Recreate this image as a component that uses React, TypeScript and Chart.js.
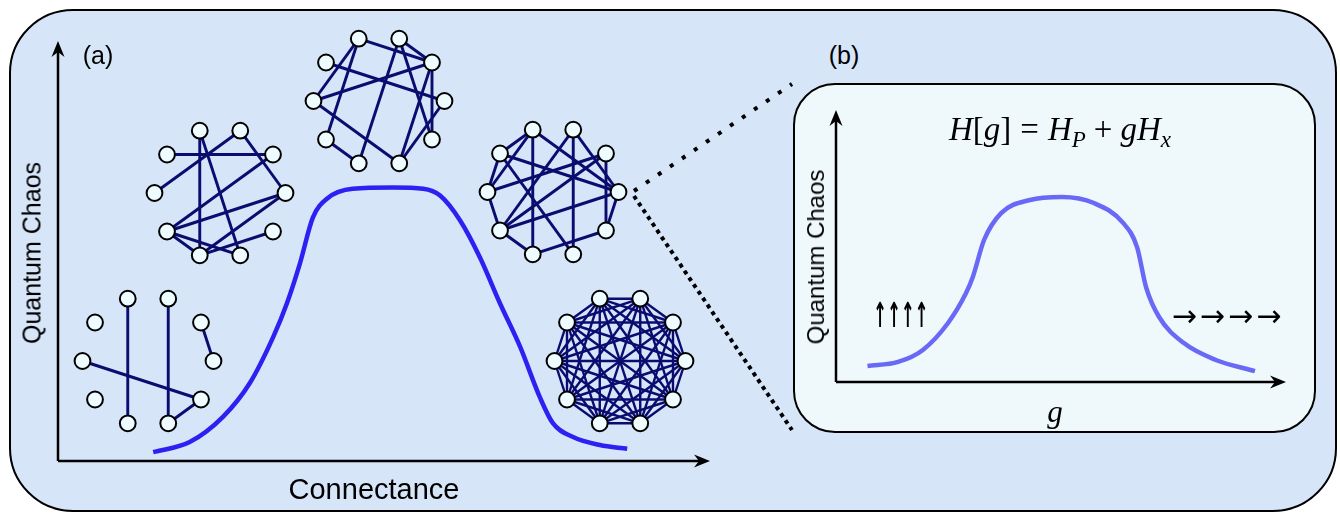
import React, { useEffect, useRef } from "react";
import { Chart, registerables } from "chart.js";
Chart.register(...registerables);

// ================= DATA =================
// Panel (a): quantum chaos vs connectance
const connectance = [14.6, 20.2, 25.3, 29.4, 33.0, 35.1, 37.1, 39.1, 41.3, 45.2, 51.4, 56.0, 58.6, 61.7, 64.7, 67.8, 70.9, 73.9, 75.9, 79.0, 83.1, 87.3];
const chaosA = [2.1, 4.5, 10.5, 18.5, 29.5, 37.5, 47.0, 58.0, 62.5, 64.8, 65.1, 64.8, 63.2, 57.2, 48.5, 37.5, 27.1, 15.2, 9.0, 5.7, 3.8, 2.9];

// Panel (b): quantum chaos vs g
const couplingG = [7.0, 13.8, 19.3, 24.9, 28.9, 30.4, 32.9, 36.7, 43.1, 50.2, 57.3, 63.8, 66.9, 68.9, 71.8, 77.3, 84.4, 93.1];
const chaosB = [5.9, 7.4, 11.8, 21.7, 32.7, 38.6, 52.2, 62.1, 66.9, 68.0, 65.8, 58.5, 49.6, 34.9, 23.9, 14.3, 8.1, 4.0];

// Networks: 10 nodes on a ring (node k sits at angle 36k degrees)
const NODE_COUNT = 10;
const edgesG1: number[][] = [[3, 7], [2, 8], [1, 0], [5, 9], [9, 8]];
const edgesG2: number[][] = [[3, 7], [3, 8], [4, 1], [5, 2], [2, 0], [6, 1], [6, 0], [6, 7], [6, 8], [7, 9], [7, 0]];
const edgesG3: number[][] = [[3, 1], [3, 5], [3, 6], [4, 0], [5, 1], [5, 8], [6, 7], [2, 7], [2, 9], [2, 1], [1, 9], [1, 8], [0, 8]];
const edgesG4: number[][] = [[3, 4], [3, 5], [3, 7], [3, 0], [4, 5], [4, 0], [4, 8], [2, 8], [2, 6], [2, 0], [1, 5], [1, 9], [1, 6], [5, 6], [6, 0], [6, 7], [7, 9], [0, 9]];
const edgesG5: number[][] = []; // complete graph
for (let a = 0; a < NODE_COUNT; a++) for (let b = a + 1; b < NODE_COUNT; b++) edgesG5.push([a, b]);

// Text
const labelA = "(a)";
const labelB = "(b)";
const yTitle = "Quantum Chaos";
const xTitleA = "Connectance";
const xTitleB = "g";
const upSpins = "↑↑↑↑";
const rightSpins = "→→→→";

// ================= STYLE / LAYOUT =================
const SANS = "'Liberation Sans', Arial, Helvetica, sans-serif";
const SERIF = "'Liberation Serif', 'Times New Roman', serif";
const EDGE_COLOR = "#0b0b70";
const NODE_FILL = "#effcff";

function arrowHead(ctx: CanvasRenderingContext2D, x: number, y: number, ang: number) {
  ctx.save();
  ctx.translate(x, y);
  ctx.rotate(ang);
  ctx.beginPath();
  ctx.moveTo(0, 0);
  ctx.lineTo(-16, -6.5);
  ctx.lineTo(-11, 0);
  ctx.lineTo(-16, 6.5);
  ctx.closePath();
  ctx.fill();
  ctx.restore();
}

const arrowAxes = {
  id: "arrowAxes",
  beforeDatasetsDraw(chart: any) {
    const { ctx, chartArea } = chart;
    const { left, right, top, bottom } = chartArea;
    ctx.save();
    ctx.strokeStyle = "#000";
    ctx.fillStyle = "#000";
    ctx.lineWidth = 2.5;
    ctx.beginPath();
    ctx.moveTo(left, bottom);
    ctx.lineTo(right - 11, bottom);
    ctx.moveTo(left, bottom);
    ctx.lineTo(left, top + 11);
    ctx.stroke();
    arrowHead(ctx, right, bottom, 0);
    arrowHead(ctx, left, top, -Math.PI / 2);
    ctx.restore();
  },
};

const zoomLines = {
  id: "zoomLines",
  afterDraw(chart: any) {
    const ctx = chart.ctx;
    ctx.save();
    ctx.strokeStyle = "#000";
    ctx.lineWidth = 4;
    ctx.setLineDash([4, 10.5]);
    ctx.beginPath();
    ctx.moveTo(634, 191);
    ctx.lineTo(792, 84);
    ctx.stroke();
    ctx.setLineDash([4, 4.2]);
    ctx.beginPath();
    ctx.moveTo(634, 196);
    ctx.lineTo(792, 430);
    ctx.stroke();
    ctx.restore();
  },
};

function baseOptions(padding: any) {
  return {
    animation: false as const,
    responsive: false,
    events: [] as any[],
    layout: { padding, autoPadding: false },
    plugins: { legend: { display: false }, tooltip: { enabled: false }, title: { display: false } },
    scales: {
      x: { type: "linear" as const, min: 0, max: 100, display: false },
      y: { type: "linear" as const, min: 0, max: 100, display: false },
    },
  };
}

function CurveChart({ xs, ys, color, width, height, left, top, padding, extraPlugins }: any) {
  const ref = useRef<HTMLCanvasElement>(null);
  useEffect(() => {
    const chart = new Chart(ref.current as HTMLCanvasElement, {
      type: "line",
      data: {
        datasets: [
          {
            data: xs.map((x: number, i: number) => ({ x, y: ys[i] })),
            borderColor: color,
            borderWidth: 4.5,
            pointRadius: 0,
            cubicInterpolationMode: "monotone",
            fill: false,
            clip: false,
          } as any,
        ],
      },
      options: baseOptions(padding) as any,
      plugins: [arrowAxes, ...(extraPlugins || [])],
    });
    return () => chart.destroy();
  }, []);
  return (
    <canvas
      ref={ref}
      width={width}
      height={height}
      style={{ position: "absolute", left, top, width, height }}
    />
  );
}

const RING = 1.145;
function Network({ edges, cx, cy }: { edges: number[][]; cx: number; cy: number }) {
  const ref = useRef<HTMLCanvasElement>(null);
  useEffect(() => {
    const nodes = Array.from({ length: NODE_COUNT }, (_, k) => ({
      x: Math.cos((k * 2 * Math.PI) / NODE_COUNT),
      y: Math.sin((k * 2 * Math.PI) / NODE_COUNT),
    }));
    const datasets: any[] = [
      {
        data: nodes,
        pointRadius: 7.9,
        pointBackgroundColor: NODE_FILL,
        pointBorderColor: "#000",
        pointBorderWidth: 2,
        showLine: false,
        order: 0,
        clip: false,
      },
      ...edges.map(([a, b]) => ({
        data: [nodes[a], nodes[b]],
        showLine: true,
        borderColor: EDGE_COLOR,
        borderWidth: edges.length > 30 ? 2.4 : 2.9,
        pointRadius: 0,
        order: 1,
        clip: false,
      })),
    ];
    const chart = new Chart(ref.current as HTMLCanvasElement, {
      type: "scatter",
      data: { datasets },
      options: {
        animation: false,
        responsive: false,
        events: [],
        layout: { padding: 0, autoPadding: false },
        plugins: { legend: { display: false }, tooltip: { enabled: false } },
        scales: {
          x: { type: "linear", min: -RING, max: RING, display: false },
          y: { type: "linear", min: -RING, max: RING, display: false },
        },
      } as any,
    });
    return () => chart.destroy();
  }, []);
  return (
    <canvas
      ref={ref}
      width={150}
      height={150}
      style={{ position: "absolute", left: cx - 75, top: cy - 75, width: 150, height: 150 }}
    />
  );
}

function Text({ x, y, size, rotate = 0, family = SANS, italic = false, scaleX = 1, scaleY = 1, spacing = 0, weight = "normal", children }: any) {
  return (
    <div
      style={{
        position: "absolute",
        left: x,
        top: y,
        transform: `translate(-50%, -50%) rotate(${rotate}deg) scale(${scaleX}, ${scaleY})`,
        fontSize: size,
        fontFamily: family,
        fontStyle: italic ? "italic" : "normal",
        fontWeight: weight,
        letterSpacing: spacing,
        whiteSpace: "nowrap",
        lineHeight: 1,
        color: "#000",
      }}
    >
      {children}
    </div>
  );
}

export default function App() {
  return (
    <div style={{ position: "fixed", left: 0, top: 0, width: 1340, height: 514, background: "#fff", overflow: "hidden" }}>
      <div
        style={{
          position: "absolute",
          left: 9,
          top: 9,
          width: 1328,
          height: 503,
          boxSizing: "border-box",
          border: "2.5px solid #000",
          borderRadius: 64,
          background: "#d6e5f8",
        }}
      />
      <div
        style={{
          position: "absolute",
          left: 793,
          top: 83,
          width: 523,
          height: 350,
          boxSizing: "border-box",
          border: "2.5px solid #000",
          borderRadius: 42,
          background: "#eff9fc",
        }}
      />
      <CurveChart
        xs={connectance}
        ys={chaosA}
        color="#2c20f2"
        width={800}
        height={514}
        left={0}
        top={0}
        padding={{ left: 58, right: 90, top: 41, bottom: 53 }}
        extraPlugins={[zoomLines]}
      />
      <CurveChart
        xs={couplingG}
        ys={chaosB}
        color="#6a68f6"
        width={540}
        height={350}
        left={780}
        top={83}
        padding={{ left: 56, right: 34, top: 27, bottom: 51 }}
      />
      <Network edges={edgesG1} cx={148} cy={361} />
      <Network edges={edgesG2} cx={220} cy={193} />
      <Network edges={edgesG3} cx={379} cy={101} />
      <Network edges={edgesG4} cx={553} cy={192} />
      <Network edges={edgesG5} cx={620} cy={361} />

      <Text x={98} y={55} size={25}>{labelA}</Text>
      <Text x={844} y={55} size={25}>{labelB}</Text>
      <Text x={32} y={253} size={25} rotate={-90}>{yTitle}</Text>
      <Text x={374} y={489} size={29}>{xTitleA}</Text>
      <Text x={816} y={257} size={24} rotate={-90}>{yTitle}</Text>
      <Text x={1055} y={411} size={31} family={SERIF} italic>{xTitleB}</Text>
      <div
        style={{
          position: "absolute",
          left: 1060,
          top: 132,
          transform: "translate(-50%, -50%)",
          fontFamily: SERIF,
          fontSize: 33,
          whiteSpace: "nowrap",
          lineHeight: 1,
          color: "#000",
        }}
      >
        <i>H</i>[<i>g</i>]<span style={{ margin: "0 9px" }}>=</span>
        <i>H</i>
        <sub style={{ fontSize: 23, verticalAlign: "-0.3em" }}>
          <i>P</i>
        </sub>
        <span style={{ margin: "0 8px" }}>+</span>
        <i>gH</i>
        <sub style={{ fontSize: 23, verticalAlign: "-0.3em" }}>
          <i>x</i>
        </sub>
      </div>
      <Text x={901} y={316} size={30} family="'DejaVu Sans', sans-serif" scaleX={0.55} scaleY={1.15} weight="bold">{upSpins}</Text>
      <Text x={1228} y={316} size={30} family="'DejaVu Sans', sans-serif" spacing={3}>{rightSpins}</Text>
    </div>
  );
}
